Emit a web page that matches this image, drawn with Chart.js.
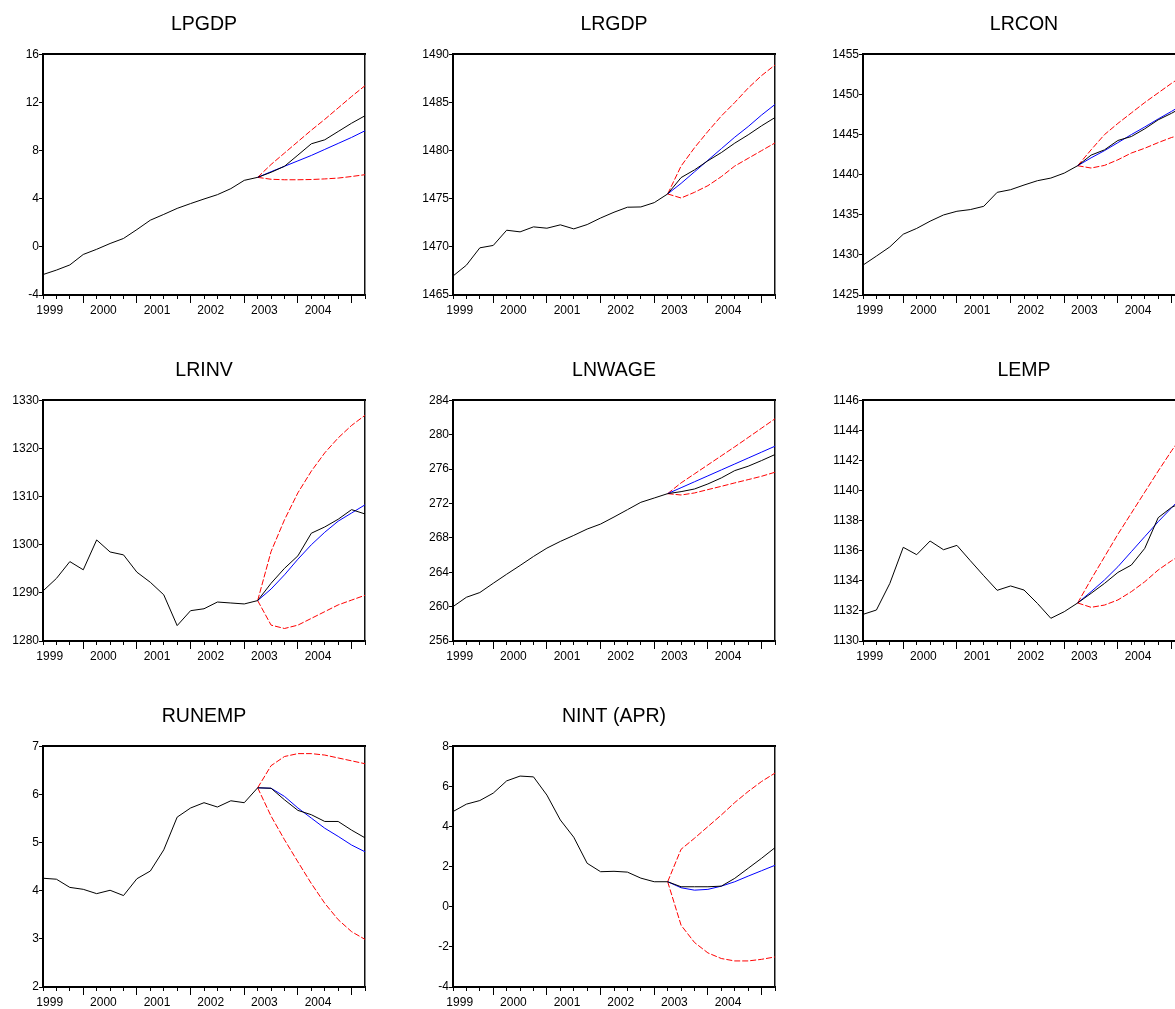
<!DOCTYPE html>
<html>
<head>
<meta charset="utf-8">
<script src="https://cdn.jsdelivr.net/npm/chart.js@4.4.1/dist/chart.umd.min.js"></script>
<style>
  html, body { margin: 0; padding: 0; background: #fff; overflow: hidden; }
  #wrap { position: relative; width: 1175px; height: 1009px; overflow: hidden; }
  #wrap canvas { position: absolute; }
</style>
</head>
<body>
<div id="wrap">
  <canvas id="c0" width="408" height="321" style="left:0px;top:0px"></canvas>
  <canvas id="c1" width="408" height="321" style="left:410px;top:0px"></canvas>
  <canvas id="c2" width="408" height="321" style="left:820px;top:0px"></canvas>
  <canvas id="c3" width="408" height="321" style="left:0px;top:346px"></canvas>
  <canvas id="c4" width="408" height="321" style="left:410px;top:346px"></canvas>
  <canvas id="c5" width="408" height="321" style="left:820px;top:346px"></canvas>
  <canvas id="c6" width="408" height="321" style="left:0px;top:692px"></canvas>
  <canvas id="c7" width="408" height="321" style="left:410px;top:692px"></canvas>
</div>
<script>
// quarterly observations shown on the x axis
const quarters = ['1999Q2','1999Q3','1999Q4','2000Q1','2000Q2','2000Q3','2000Q4',
  '2001Q1','2001Q2','2001Q3','2001Q4','2002Q1','2002Q2','2002Q3','2002Q4',
  '2003Q1','2003Q2','2003Q3','2003Q4','2004Q1','2004Q2','2004Q3','2004Q4','2005Q1','2005Q2'];
const years = ['1999', '2000', '2001', '2002', '2003', '2004'];
const forecastFrom = '2003Q2';

// y axis: min, max, step
const lpgdpAxis = [-4, 16, 4];
const lrgdpAxis = [1465, 1490, 5];
const lrconAxis = [1425, 1455, 5];
const lrinvAxis = [1280, 1330, 10];
const lnwageAxis = [256, 284, 4];
const lempAxis = [1130, 1146, 2];
const runempAxis = [2, 7, 1];
const nintAxis = [-4, 8, 2];

// actual series (all quarters), forecast / bands (from forecastFrom)
const lpgdpActual = [-2.3, -1.93, -1.5, -0.63, -0.2, 0.28, 0.7, 1.44, 2.22, 2.7, 3.2, 3.6, 3.98, 4.34, 4.84, 5.53, 5.78, 6.2, 6.7, 7.63, 8.57, 8.9, 9.59, 10.28, 10.9];
const lpgdpForecast = [5.78, 6.25, 6.7, 7.15, 7.6, 8.1, 8.6, 9.1, 9.65];
const lpgdpUpper = [5.78, 6.85, 7.8, 8.75, 9.7, 10.6, 11.55, 12.5, 13.4];
const lpgdpLower = [5.78, 5.62, 5.58, 5.58, 5.6, 5.65, 5.72, 5.85, 6.0];

const lrgdpActual = [1466.97, 1468.1, 1469.9, 1470.15, 1471.73, 1471.56, 1472.08, 1471.94, 1472.29, 1471.87, 1472.32, 1473.0, 1473.6, 1474.12, 1474.15, 1474.6, 1475.5, 1477.2, 1478.0, 1478.95, 1479.8, 1480.78, 1481.64, 1482.58, 1483.44];
const lrgdpForecast = [1475.5, 1476.6, 1477.8, 1479.0, 1480.2, 1481.4, 1482.5, 1483.7, 1484.8];
const lrgdpUpper = [1475.5, 1478.4, 1480.3, 1482.0, 1483.6, 1485.0, 1486.5, 1487.8, 1488.9];
const lrgdpLower = [1475.5, 1475.08, 1475.67, 1476.36, 1477.3, 1478.4, 1479.2, 1480.0, 1480.8];

const lrconActual = [1428.73, 1429.85, 1431.0, 1432.58, 1433.3, 1434.2, 1434.98, 1435.44, 1435.65, 1436.06, 1437.8, 1438.13, 1438.71, 1439.25, 1439.58, 1440.2, 1441.12, 1442.44, 1443.1, 1444.27, 1444.76, 1445.72, 1446.84, 1447.66, 1448.6];
const lrconForecast = [1441.12, 1442.1, 1443.0, 1444.0, 1445.0, 1445.95, 1446.95, 1447.9, 1448.9];
const lrconUpper = [1441.12, 1443.1, 1445.0, 1446.4, 1447.7, 1449.0, 1450.2, 1451.4, 1452.5];
const lrconLower = [1441.12, 1440.83, 1441.16, 1441.86, 1442.7, 1443.3, 1444.0, 1444.64, 1445.1];

const lrinvActual = [1290.4, 1293.0, 1296.5, 1294.8, 1301.0, 1298.5, 1297.9, 1294.3, 1292.2, 1289.6, 1283.2, 1286.3, 1286.7, 1288.1, 1287.9, 1287.7, 1288.4, 1292.0, 1295.1, 1297.7, 1302.4, 1303.7, 1305.3, 1307.3, 1306.4];
const lrinvForecast = [1288.4, 1290.8, 1293.75, 1297.0, 1300.0, 1302.6, 1304.9, 1306.6, 1308.3];
const lrinvUpper = [1288.4, 1298.6, 1305.2, 1310.8, 1315.3, 1319.1, 1322.2, 1324.8, 1326.9];
const lrinvLower = [1288.4, 1283.3, 1282.6, 1283.3, 1284.7, 1286.1, 1287.5, 1288.5, 1289.5];

const lnwageActual = [260.0, 261.09, 261.64, 262.72, 263.77, 264.79, 265.84, 266.81, 267.59, 268.29, 269.03, 269.61, 270.43, 271.28, 272.14, 272.64, 273.15, 273.38, 273.69, 274.28, 274.98, 275.83, 276.34, 277.0, 277.7];
const lnwageForecast = [273.15, 273.84, 274.53, 275.22, 275.91, 276.6, 277.29, 277.98, 278.67];
const lnwageUpper = [273.15, 274.4, 275.45, 276.5, 277.55, 278.6, 279.68, 280.77, 281.86];
const lnwageLower = [273.15, 272.99, 273.23, 273.62, 274.0, 274.4, 274.78, 275.17, 275.64];

const lempActual = [1131.77, 1132.06, 1133.83, 1136.23, 1135.74, 1136.65, 1136.07, 1136.36, 1135.34, 1134.34, 1133.37, 1133.66, 1133.39, 1132.5, 1131.51, 1131.95, 1132.53, 1133.17, 1133.83, 1134.56, 1135.05, 1136.16, 1138.2, 1138.89, 1139.3];
const lempForecast = [1132.53, 1133.28, 1134.06, 1134.94, 1135.94, 1136.94, 1137.93, 1138.86, 1139.8];
const lempUpper = [1132.53, 1134.1, 1135.6, 1137.1, 1138.5, 1139.9, 1141.3, 1142.65, 1143.9];
const lempLower = [1132.53, 1132.24, 1132.39, 1132.73, 1133.28, 1133.94, 1134.72, 1135.34, 1135.9];

const runempActual = [4.26, 4.24, 4.07, 4.03, 3.94, 4.01, 3.90, 4.25, 4.41, 4.85, 5.53, 5.72, 5.83, 5.74, 5.87, 5.83, 6.14, 6.13, 5.89, 5.67, 5.58, 5.44, 5.44, 5.26, 5.10];
const runempForecast = [6.14, 6.13, 5.96, 5.72, 5.51, 5.30, 5.13, 4.95, 4.81];
const runempUpper = [6.14, 6.6, 6.79, 6.85, 6.85, 6.82, 6.76, 6.7, 6.64];
const runempLower = [6.14, 5.55, 5.06, 4.6, 4.15, 3.74, 3.40, 3.15, 2.99];

const nintActual = [4.75, 5.12, 5.3, 5.67, 6.28, 6.52, 6.48, 5.57, 4.33, 3.47, 2.17, 1.75, 1.77, 1.73, 1.43, 1.25, 1.25, 1.0, 1.0, 1.0, 1.03, 1.42, 1.92, 2.42, 2.95];
const nintForecast = [1.25, 0.95, 0.83, 0.87, 1.03, 1.25, 1.53, 1.8, 2.07];
const nintUpper = [1.25, 2.87, 3.42, 4.0, 4.58, 5.2, 5.75, 6.25, 6.67];
const nintLower = [1.25, -0.92, -1.78, -2.3, -2.58, -2.7, -2.7, -2.62, -2.5];

const FONT = "'Liberation Sans', Arial, sans-serif";
Chart.defaults.font.family = FONT;
Chart.defaults.color = '#000';

// year labels sit in the middle of each year's four quarters
const yearPos = years.map(y => {
  const q1 = quarters.indexOf(y + 'Q1');
  if (q1 >= 0) return q1 + 1.5;
  const first = quarters.findIndex(q => q.startsWith(y));
  return first - (Number(quarters[first].slice(5)) - 1) + 1.5;
});

const makeChart = (id, title, axis, actual, forecast, upper, lower) => {
  const start = quarters.indexOf(forecastFrom);
  const pad = arr => quarters.map((q, i) => i < start ? null : arr[i - start]);
  const red = { borderColor: '#ff0000', borderWidth: 1, borderDash: [6, 2] };

  new Chart(document.getElementById(id), {
    type: 'line',
    data: {
      labels: quarters,
      datasets: [
        { data: actual, borderColor: '#000000', borderWidth: 1 },
        { data: pad(forecast), borderColor: '#0000ff', borderWidth: 1 },
        Object.assign({ data: pad(upper) }, red),
        Object.assign({ data: pad(lower) }, red)
      ]
    },
    options: {
      responsive: false,
      animation: false,
      layout: { padding: 0 },
      elements: { point: { radius: 0 }, line: { tension: 0 } },
      plugins: {
        legend: { display: false },
        tooltip: { enabled: false },
        title: {
          display: true, text: title, color: '#000',
          font: { size: 19.5, weight: 'normal', lineHeight: 1.2 },
          padding: { top: 13, bottom: 18 }
        }
      },
      scales: {
        x: {
          position: 'bottom',
          ticks: { display: false },
          grid: { drawOnChartArea: false, tickLength: 4, color: '#000' },
          border: { display: true, color: '#000', width: 2 },
          afterFit: s => { s.height = 0; }
        },
        xMajor: {
          type: 'category', position: 'bottom',
          ticks: { display: false },
          grid: {
            drawOnChartArea: false, tickLength: 8, color: '#000',
            tickColor: c => (quarters[c.index] || '').endsWith('Q1') ? '#000' : 'rgba(0,0,0,0)'
          },
          border: { display: false },
          afterFit: s => { s.height = 0; }
        },
        xYear: {
          type: 'linear', position: 'bottom',
          min: 0, max: quarters.length - 1,
          afterBuildTicks: s => { s.ticks = yearPos.map(v => ({ value: v })); },
          ticks: {
            autoSkip: false, maxRotation: 0, padding: 8, color: '#000',
            font: { size: 12 },
            callback: (v, i) => years[i]
          },
          grid: { display: false, drawTicks: false },
          border: { display: false },
          afterFit: s => { s.height = 26; }
        },
        xTop: {
          type: 'category', position: 'top',
          ticks: { display: false },
          grid: { display: false, drawTicks: false },
          border: { display: true, color: '#000', width: 2 },
          afterFit: s => { s.height = 0; }
        },
        y: {
          position: 'left',
          min: axis[0], max: axis[1],
          ticks: {
            stepSize: axis[2], padding: 0, color: '#000',
            font: { size: 12 },
            callback: v => String(v)
          },
          grid: { drawOnChartArea: false, tickLength: 4, color: '#000' },
          border: { display: true, color: '#000', width: 2 },
          afterFit: s => { s.width = 43; }
        },
        yRight: {
          position: 'right',
          ticks: { display: false },
          grid: { display: false, drawTicks: false },
          border: { display: true, color: '#111', width: 1.5 },
          afterFit: s => { s.width = 43; }
        }
      }
    }
  });
};

makeChart('c0', 'LPGDP', lpgdpAxis, lpgdpActual, lpgdpForecast, lpgdpUpper, lpgdpLower);
makeChart('c1', 'LRGDP', lrgdpAxis, lrgdpActual, lrgdpForecast, lrgdpUpper, lrgdpLower);
makeChart('c2', 'LRCON', lrconAxis, lrconActual, lrconForecast, lrconUpper, lrconLower);
makeChart('c3', 'LRINV', lrinvAxis, lrinvActual, lrinvForecast, lrinvUpper, lrinvLower);
makeChart('c4', 'LNWAGE', lnwageAxis, lnwageActual, lnwageForecast, lnwageUpper, lnwageLower);
makeChart('c5', 'LEMP', lempAxis, lempActual, lempForecast, lempUpper, lempLower);
makeChart('c6', 'RUNEMP', runempAxis, runempActual, runempForecast, runempUpper, runempLower);
makeChart('c7', 'NINT (APR)', nintAxis, nintActual, nintForecast, nintUpper, nintLower);
</script>
</body>
</html>
